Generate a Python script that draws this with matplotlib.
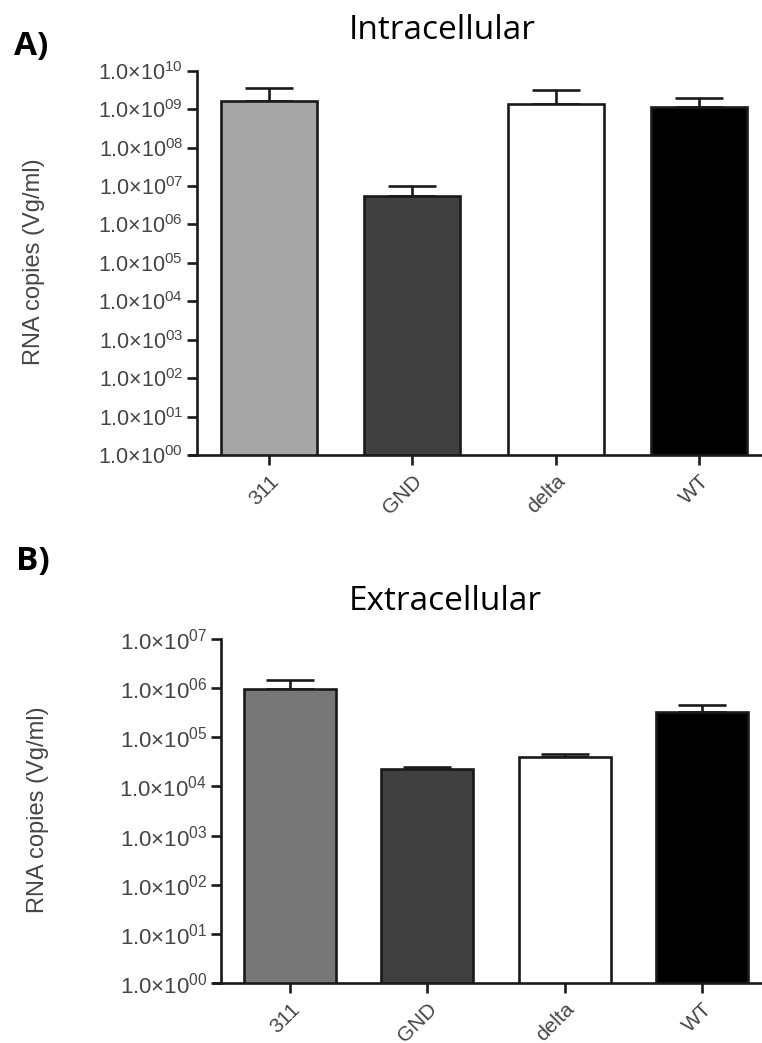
import matplotlib
matplotlib.use("Agg")
import matplotlib.pyplot as plt
import numpy as np

categories = ["311", "GND", "delta", "WT"]

# panel A, intracellular: bar height and top of the (upper) error bar
intra_mean = [1.6e9, 5.6e6, 1.4e9, 1.15e9]
intra_upper = [3.6e9, 1.0e7, 3.2e9, 1.9e9]
intra_colors = ["#a6a6a6", "#404040", "white", "black"]
intra_exponents = list(range(0, 11))

# panel B, extracellular
extra_mean = [9.4e5, 2.3e4, 4.0e4, 3.2e5]
extra_upper = [1.47e6, 2.45e4, 4.5e4, 4.45e5]
extra_colors = ["#777777", "#404040", "white", "black"]
extra_exponents = list(range(0, 8))

plt.rcParams["font.family"] = ["Liberation Sans", "DejaVu Sans"]
plt.rcParams["mathtext.fontset"] = "custom"
plt.rcParams["mathtext.rm"] = "Liberation Sans"

W, H = 762, 1043
fig = plt.figure(figsize=(W / 100, H / 100), dpi=100)

ink = "#1a1a1a"
grey = "#454545"
lw = 1.9


def draw_panel(ax, means, uppers, colors, exponents, xlim, tick_size, ylabel_xy):
    x = np.arange(len(categories))
    means = np.array(means)
    err = np.array(uppers) - means
    ax.errorbar(x, means, yerr=[np.zeros_like(means), err], fmt="none",
                ecolor=ink, elinewidth=lw, capsize=17, capthick=lw, zorder=1)
    ax.bar(x, means, width=0.67, color=colors, edgecolor=ink, linewidth=lw,
           zorder=2)
    ax.set_yscale("log")
    ax.set_ylim(10.0 ** exponents[0], 10.0 ** exponents[-1])
    ax.set_xlim(*xlim)
    ax.set_yticks([10.0 ** e for e in exponents])
    ax.set_yticklabels(["1.0×10$^{%02d}$" % e for e in exponents],
                       fontsize=tick_size)
    ax.yaxis.set_minor_locator(matplotlib.ticker.NullLocator())
    ax.set_xticks(x)
    ax.set_xticklabels(categories, rotation=45, ha="right", va="top",
                       rotation_mode="anchor", fontsize=15)
    for s in ["top", "right"]:
        ax.spines[s].set_visible(False)
    for s in ["left", "bottom"]:
        ax.spines[s].set_linewidth(lw)
        ax.spines[s].set_color(ink)
    # x axis line starts a little left of the y axis
    ax.spines["bottom"].set_bounds(xlim[0] - 0.05, xlim[1])
    ax.tick_params(axis="both", length=7, width=lw, color=ink,
                   labelcolor=grey, pad=3)
    ax.tick_params(axis="x", pad=5)
    ax.set_ylabel("RNA copies (Vg/ml)", fontsize=17, color=grey)
    ax.yaxis.set_label_coords(*ylabel_xy)
    ax.patch.set_alpha(0)


axA = fig.add_axes([197 / W, 1 - 455 / H, (W - 197) / W, (455 - 70.7) / H])
draw_panel(axA, intra_mean, intra_upper, intra_colors, intra_exponents,
           (-0.502, 3.44), 15.5, (-0.269, 0.502))

axB = fig.add_axes([221 / W, 1 - 983 / H, (W - 221) / W, (983 - 639) / H])
draw_panel(axB, extra_mean, extra_upper, extra_colors, extra_exponents,
           (-0.503, 3.438), 16, (-0.318, 0.503))

fig.text(442 / W, 1 - 39 / H, "Intracellular", family="Open Sans", fontsize=24,
         ha="center", va="baseline", color="black")
fig.text(445 / W, 1 - 610 / H, "Extracellular", family="Open Sans", fontsize=24,
         ha="center", va="baseline", color="black")
fig.text(14 / W, 1 - 55 / H, "A)", family="Open Sans", fontsize=24,
         fontweight="bold", ha="left", va="baseline", color="black")
fig.text(16 / W, 1 - 570 / H, "B)", family="Open Sans", fontsize=24,
         fontweight="bold", ha="left", va="baseline", color="black")

fig.savefig("out.png", dpi=100)
